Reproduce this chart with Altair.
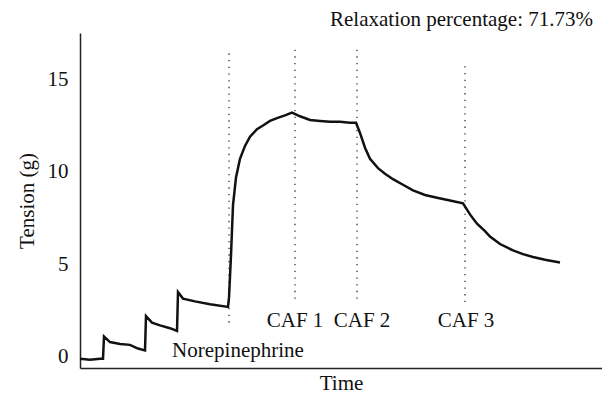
import altair as alt
import pandas as pd

# Trace (time in arbitrary units, tension in g)
trace_t = [0, 10, 20, 23, 24, 30, 40, 50, 58, 65, 66, 72, 80, 90, 97, 98, 103, 115, 130, 148,
           149, 151, 153, 156, 160, 165, 170, 177, 183, 190, 197, 205, 212, 220, 230, 240, 250,
           260, 270, 276, 280, 285, 290, 298, 305, 313, 323, 333, 345, 357, 370, 383, 390, 397,
           405, 410, 420, 433, 443, 453, 465, 480]
trace_v = [-0.1, -0.15, -0.1, -0.1, 1.1, 0.8, 0.7, 0.65, 0.45, 0.35, 2.2, 1.85, 1.7, 1.55, 1.4,
           3.5, 3.15, 3.0, 2.85, 2.7, 3.2, 5.5, 8.2, 9.7, 10.7, 11.4, 11.9, 12.3, 12.5, 12.75,
           12.9, 13.05, 13.2, 13.0, 12.8, 12.75, 12.7, 12.7, 12.65, 12.65, 12.1, 11.3, 10.7,
           10.2, 9.9, 9.6, 9.3, 9.0, 8.75, 8.6, 8.45, 8.3, 7.7, 7.2, 6.8, 6.5, 6.1, 5.75, 5.55,
           5.4, 5.25, 5.1]

# Event markers (dotted lines)
event_t = [149, 215, 277, 385]
event_top = [16.4, 16.6, 16.6, 15.7]
event_bottom = [1.6, 2.9, 2.9, 2.9]

# Event labels
label_text = ["Norepinephrine", "CAF 1", "CAF 2", "CAF 3"]
label_t = [158, 215, 282, 386]
label_v = [0.0, 1.64, 1.64, 1.64]

trace = pd.DataFrame({"t": trace_t, "v": trace_v})
events = pd.DataFrame({"t": event_t, "top": event_top, "bottom": event_bottom})
labels = pd.DataFrame({"text": label_text, "t": label_t, "v": label_v})

FONT = "Liberation Serif"
FS = 21

x_scale = alt.Scale(domain=[0, 522], nice=False, zero=False)
y_scale = alt.Scale(domain=[-0.6, 17.5], nice=False, zero=False)

x_axis = alt.Axis(labels=False, ticks=False, grid=False, title="Time",
                  domainColor="#222", domainWidth=1.5,
                  titleBaseline="alphabetic", titleY=21)
y_axis = alt.Axis(values=[0, 5, 10, 15], ticks=False, grid=False, title="Tension (g)",
                  domainColor="#222", domainWidth=1.5, labelPadding=12, titlePadding=10)

line = alt.Chart(trace).mark_line(color="#111", strokeWidth=2.5).encode(
    x=alt.X("t:Q", scale=x_scale, axis=x_axis),
    y=alt.Y("v:Q", scale=y_scale, axis=y_axis),
)

rules = alt.Chart(events).mark_rule(color="#333", strokeWidth=1.3, strokeDash=[1.3, 5.4]).encode(
    x="t:Q",
    y="top:Q",
    y2="bottom:Q",
)

texts = alt.Chart(labels).mark_text(font=FONT, fontSize=FS, color="#111",
                                    baseline="alphabetic", align="center").encode(
    x="t:Q",
    y="v:Q",
    text="text:N",
)

chart = alt.layer(rules, line, texts).properties(
    width=522,
    height=335,
    autosize=alt.AutoSizeParams(type="none"),
    padding={"left": 72, "top": 25, "right": 0, "bottom": 26},
    title=alt.TitleParams("Relaxation percentage: 71.73%", anchor="end", font=FONT,
                          fontSize=FS, fontWeight="normal", color="#111", offset=3, dx=-9),
).configure_view(stroke=None).configure_axis(
    labelFont=FONT, titleFont=FONT, labelFontSize=FS, titleFontSize=FS,
    labelColor="#111", titleColor="#111", titleFontWeight="normal",
)

chart.save("out.html", embed_options={"renderer": "svg", "actions": False})
